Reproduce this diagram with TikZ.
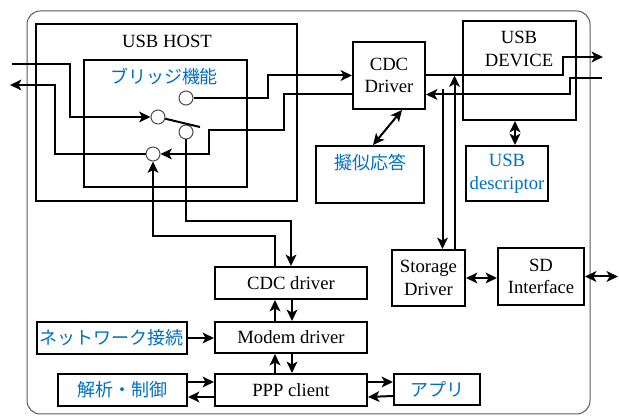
\documentclass[tikz,border=0pt]{standalone}
\usepackage{fontspec}
\setmainfont{Liberation Serif}
\newfontfamily\jpfont{Noto Sans CJK JP}
\usetikzlibrary{arrows.meta,calc}
\definecolor{jpblue}{RGB}{0,112,192}

\begin{document}
\begin{tikzpicture}[x=0.75pt,y=-0.75pt,line width=1.5pt,>={Stealth[length=8.5pt,width=8pt,inset=2.2pt]},
  box/.style={draw,fill=white,inner sep=0pt,align=center,font=\fontsize{14}{17}\selectfont},
  txt/.style={inner sep=0pt,align=center,font=\fontsize{14}{17}\selectfont},
  jp/.style={font=\fontsize{13.5}{17}\selectfont\jpfont,text=jpblue},
  port/.style={circle,draw=black!70,line width=0.75pt,fill=white,minimum size=10.5pt,inner sep=0pt},
  frame/.style={draw=black!65,line width=0.75pt,rounded corners=10pt}]

\useasboundingbox (0,0) rectangle (619,417);
\draw[frame] (27,11) rectangle (590,414);

% blocks
\node[box,minimum width=195.75pt,minimum height=132.75pt] (host)   at (166.5,112.5) {};
\node[box,minimum width=122.25pt,minimum height=95.25pt]  (bridge) at (165.5,123.5) {};
\node[box,minimum width=54pt,minimum height=50.25pt]      (cdc)    at (389,75.5)    {CDC\\Driver};
\node[box,minimum width=84.75pt,minimum height=74.25pt]   (dev)    at (519.5,70.5)  {};
\node[box,minimum width=81pt,minimum height=42.75pt]      (giji)   at (370,174.5)   {};
\node[box,minimum width=61.5pt,minimum height=41.25pt,text=jpblue] (desc) at (507,173.5) {USB\\descriptor};
\node[box,minimum width=54.75pt,minimum height=42pt]      (stor)   at (428.5,278)   {Storage\\Driver};
\node[box,minimum width=64.5pt,minimum height=42.75pt]    (sd)     at (541,276.5)   {SD\\Interface};
\node[box,minimum width=114pt,minimum height=24pt]        (cdcd)   at (291,283)     {CDC driver};
\node[box,minimum width=114pt,minimum height=23.25pt]     (modem)  at (291,337.5)   {Modem driver};
\node[box,minimum width=114pt,minimum height=24pt]        (ppp)    at (291,390)     {PPP client};
\node[box,jp,minimum width=112.5pt,minimum height=24pt]   (net)    at (112,338)     {ネットワーク接続};
\node[box,jp,minimum width=96.75pt,minimum height=24pt]   (kai)    at (122.5,390)   {解析・制御};
\node[box,jp,minimum width=64.5pt,minimum height=23.25pt] (app)    at (437,389.5)   {アプリ};

% titles
\node[txt]    (hosttitle)   at (167,41)  {USB HOST};
\node[txt,jp] (bridgetitle) at (164,77)  {ブリッジ機能};
\node[txt]    (devtitle)    at (519,49)  {USB\\DEVICE};
\node[txt,jp] (gijititle)   at (370,163) {擬似応答};

% ports of the bridge
\node[port] (pa) at (186,98)  {};
\node[port] (pb) at (158,117) {};
\node[port] (pc) at (186,132) {};
\node[port] (pd) at (153,154) {};

\coordinate (hostin)  at (12,64);
\coordinate (hostout) at (10,85);
\coordinate (devout)  at (603,57);
\coordinate (devin)   at (602,78);
\coordinate (sdout)   at (618,276.5);
\coordinate (lever)   at (200,127);
\coordinate (tap)     at ($(cdc.east)+(0,14)$);
\coordinate (storup)  at ($(stor.north)+(26,0)$);
\coordinate (stordown) at ($(stor.north)+(14,0)$);
\coordinate (descup)  at ($(desc.north)+(8,0)$);

\draw (pb) -- (lever);

% host side
\draw[->] (hostin) -- ++(58,0) |- (pb);
\draw[->] (pd) -- ++(-98,0) |- (hostout);
\draw[->] (pa) -- ++(82,0) |- (cdc.west);
\draw[->] ($(cdc.west)+(0,19)$) -- ++(-68,0) |- ++(-75,36) |- (pd);
\draw[->] (pc) -- ++(0,89) -| (cdcd.north);
\draw[->] ($(cdcd.north)+(-16,0)$) -- ++(0,-30) -| (pd);

% device side
\draw[->] (cdc.east) -- ++(137,0) |- (devout);
\draw[->] (devin) -- ++(-32,0) |- ($(cdc.east)+(0,19)$);
\draw[->] (storup) -- (storup |- cdc.east);
\draw[->] (stordown |- tap) -- (stordown);
\draw[<->] ($(cdc.south)+(13,0)$) -- ($(giji.north)+(3,0)$);
\draw[<->] (descup) -- (descup |- dev.south);
\draw[<->] (stor.east) -- (stor.east -| sd.west);
\draw[<->] (sd.east) -- (sdout);

% modem stack
\foreach \hi/\lo in {cdcd/modem,modem/ppp}{
  \draw[->] ($(\lo.north)+(-16,0)$) -- ($(\hi.south)+(-16,0)$);
  \draw[->] ($(\hi.south)+(1,0)$) -- ($(\lo.north)+(1,0)$);
}
\draw[->] (net.east) -- (net.east -| modem.west);
\draw[->] ($(kai.east)+(0,-8)$) -- ($(ppp.west)+(0,-8)$);
\draw[->] ($(ppp.west)+(0,7)$) -- ($(kai.east)+(0,7)$);
\draw[->] ($(ppp.east)+(0,-8)$) -- ($(app.west)+(0,-7.5)$);
\draw[->] ($(app.west)+(0,6.5)$) -- ($(ppp.east)+(0,7)$);
\end{tikzpicture}
\end{document}
